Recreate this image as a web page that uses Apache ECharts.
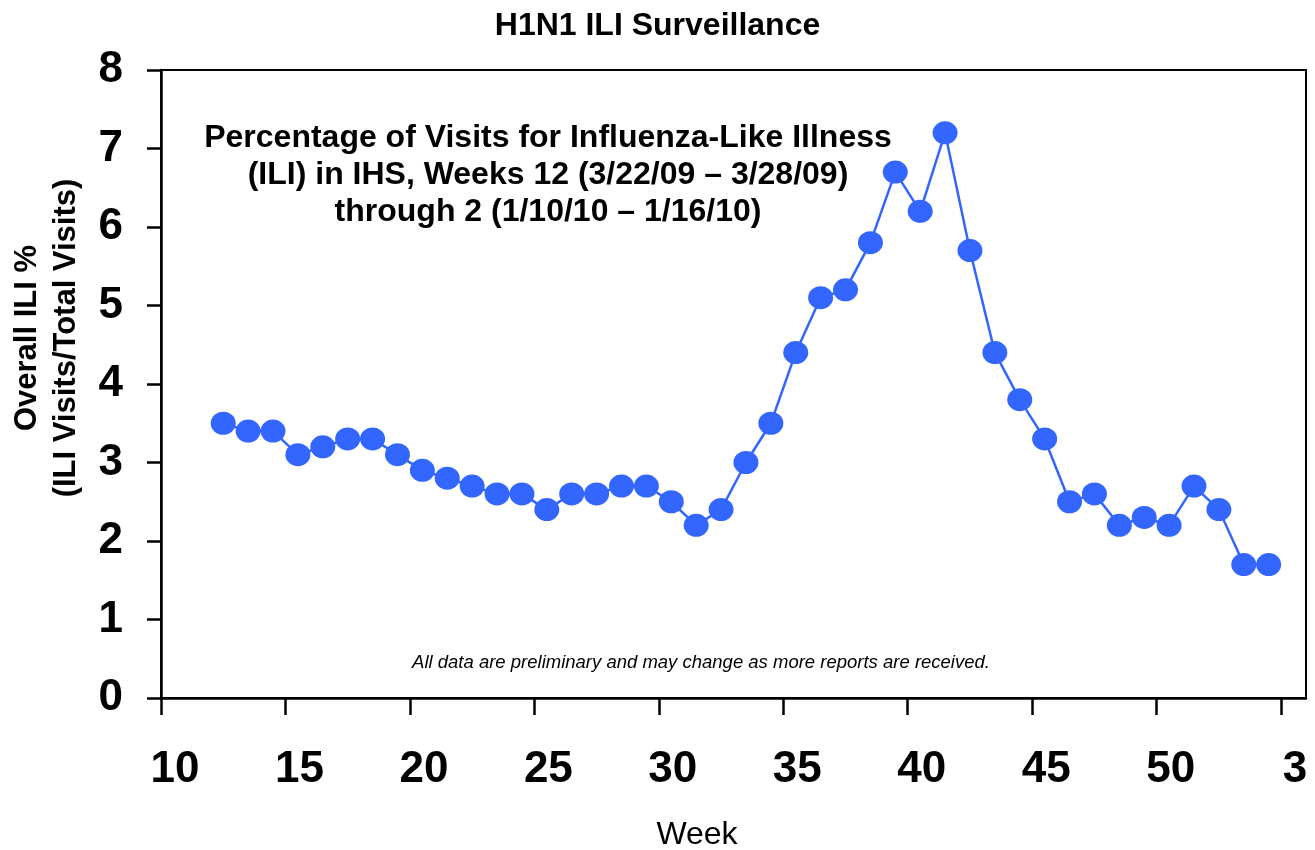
<!DOCTYPE html>
<html>
<head>
<meta charset="utf-8">
<title>H1N1 ILI Surveillance</title>
<script src="https://cdn.jsdelivr.net/npm/echarts@6/dist/echarts.min.js"></script>
<style>
    html, body { margin: 0; padding: 0; background: #fff; }
    #ecsLine { width: 1315px; height: 850px; }
</style>
</head>
<body>
<div id="ecsLine"></div>
<script>
// surveillance weeks (2009 week 12 .. 2010 week 2)
let weeks = [12, 13, 14, 15, 16, 17, 18, 19, 20, 21, 22, 23, 24, 25, 26, 27, 28, 29, 30, 31,
    32, 33, 34, 35, 36, 37, 38, 39, 40, 41, 42, 43, 44, 45, 46, 47, 48, 49, 50, 51, 52, 1, 2];
// overall ILI %
let iliPct = [3.5, 3.4, 3.4, 3.1, 3.2, 3.3, 3.3, 3.1, 2.9, 2.8, 2.7, 2.6, 2.6, 2.4, 2.6, 2.6, 2.7, 2.7, 2.5, 2.2,
    2.4, 3.0, 3.5, 4.4, 5.1, 5.2, 5.8, 6.7, 6.2, 7.2, 5.7, 4.4, 3.8, 3.3, 2.5, 2.6, 2.2, 2.3, 2.2, 2.7, 2.4, 1.7, 1.7];
// x tick positions and their labels (week 3 of 2010 sits after 52, 1, 2)
let xTicks = [10, 15, 20, 25, 30, 35, 40, 45, 50, 55];
let xTickLabels = ["10", "15", "20", "25", "30", "35", "40", "45", "50", "3"];

let fontFam = "'Liberation Sans', Arial, sans-serif";
let blue = "#3366ff";

let myChartline = echarts.init(document.getElementById("ecsLine"));

/* week number -> position on the running axis (centre of the week) */
function weekPos(w) {
    return (w < 10 ? w + 52 : w) + 0.5;
}

let seriesData = [];
weeks.forEach((w, idx) => {
    seriesData.push([weekPos(w), iliPct[idx]]);
});

myChartline.setOption({
    animation: false,
    backgroundColor: "#fff",
    title: {
        text: "H1N1 ILI Surveillance",
        left: "center",
        top: 5,
        textStyle: { fontFamily: fontFam, fontSize: 32, fontWeight: "bold", color: "#000" }
    },
    grid: {
        left: 161,
        right: 9,
        top: 70,
        bottom: 152,
        show: true,
        borderColor: "#000",
        borderWidth: 2
    },
    xAxis: {
        type: "value",
        min: 10,
        max: 56,
        splitLine: { show: false },
        axisLine: { show: true, lineStyle: { color: "#000", width: 2.5 } },
        axisTick: {
            show: true,
            length: 17,
            customValues: xTicks,
            lineStyle: { color: "#000", width: 2.5 }
        },
        axisLabel: {
            customValues: xTicks,
            margin: 50,
            padding: [0, 0, 0, 28],
            fontFamily: fontFam,
            fontSize: 44,
            fontWeight: "bold",
            color: "#000",
            formatter: function (v) {
                let i = xTicks.indexOf(v);
                return i >= 0 ? xTickLabels[i] : "";
            }
        }
    },
    yAxis: {
        type: "value",
        min: 0,
        max: 8,
        interval: 1,
        splitLine: { show: false },
        axisLine: { show: true, lineStyle: { color: "#000", width: 2.5 } },
        axisTick: { show: true, length: 14, lineStyle: { color: "#000", width: 2.5 } },
        axisLabel: {
            margin: 38,
            fontFamily: fontFam,
            fontSize: 44,
            fontWeight: "bold",
            color: "#000"
        }
    },
    graphic: [
        {
            // chart note
            type: "text",
            x: 548,
            y: 175,
            style: {
                text: "Percentage of Visits for Influenza-Like Illness\n(ILI) in IHS, Weeks 12 (3/22/09 \u2013 3/28/09)\nthrough 2 (1/10/10 \u2013 1/16/10)",
                font: "bold 32px " + fontFam,
                lineHeight: 37,
                fill: "#000",
                textAlign: "center",
                textVerticalAlign: "middle"
            }
        },
        {
            type: "text",
            x: 701,
            y: 663,
            style: {
                text: "All data are preliminary and may change as more reports are received.",
                font: "italic 18.5px " + fontFam,
                fill: "#000",
                textAlign: "center",
                textVerticalAlign: "middle"
            }
        },
        {
            // y axis title
            type: "text",
            x: 47,
            y: 338,
            rotation: Math.PI / 2,
            style: {
                text: "Overall ILI %\n(ILI Visits/Total Visits)",
                font: "bold 31px " + fontFam,
                lineHeight: 39,
                fill: "#000",
                textAlign: "center",
                textVerticalAlign: "middle"
            }
        },
        {
            // x axis title
            type: "text",
            x: 697,
            y: 835,
            style: {
                text: "Week",
                font: "32px " + fontFam,
                fill: "#000",
                textAlign: "center",
                textVerticalAlign: "middle"
            }
        }
    ],
    series: [{
        name: "ILI %",
        type: "line",
        data: seriesData,
        symbol: "circle",
        symbolSize: [25, 23],
        itemStyle: { color: blue },
        lineStyle: { color: blue, width: 2.5 }
    }]
});

/* resize with the window */
window.addEventListener("resize", function () {
    myChartline.resize();
});
</script>
</body>
</html>
